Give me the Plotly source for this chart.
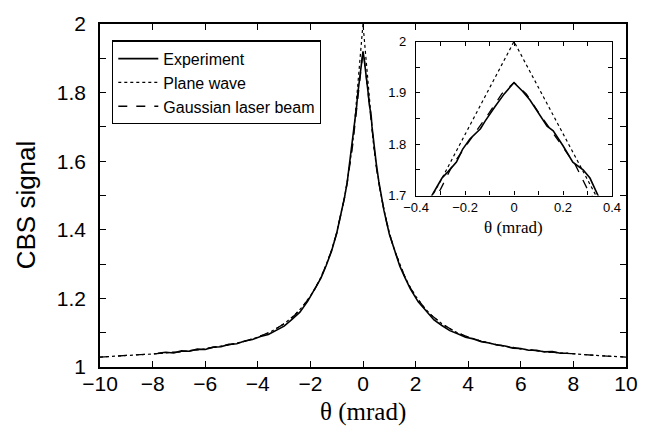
import plotly.graph_objects as go

# ---------------- data ----------------
theta_model = [-10, -9, -8, -7, -6, -5, -4.5, -4, -3.5, -3, -2.6, -2.3, -2, -1.8, -1.6,
               -1.4, -1.2, -1, -0.9, -0.8, -0.7, -0.6, -0.5, -0.4, -0.35, -0.3, -0.25,
               -0.2, -0.15, -0.1, -0.05, 0, 0.05, 0.1, 0.15, 0.2, 0.25, 0.3, 0.35, 0.4,
               0.5, 0.6, 0.7, 0.8, 0.9, 1, 1.2, 1.4, 1.6, 1.8, 2, 2.3, 2.6, 3, 3.5, 4,
               4.5, 5, 6, 7, 8, 9, 10]

plane_wave = [1.029, 1.033, 1.038, 1.044, 1.053, 1.066, 1.075, 1.087, 1.103, 1.126, 1.151,
              1.176, 1.207, 1.232, 1.262, 1.298, 1.340, 1.392, 1.424, 1.458, 1.496, 1.540,
              1.590, 1.648, 1.686, 1.728, 1.773, 1.818, 1.865, 1.910, 1.955, 2.000, 1.955,
              1.910, 1.865, 1.818, 1.773, 1.728, 1.686, 1.648, 1.590, 1.540, 1.496, 1.458,
              1.424, 1.392, 1.340, 1.298, 1.262, 1.232, 1.207, 1.176, 1.151, 1.126, 1.103,
              1.087, 1.075, 1.066, 1.053, 1.044, 1.038, 1.033, 1.029]

gaussian_beam = [1.029, 1.033, 1.038, 1.044, 1.053, 1.066, 1.075, 1.087, 1.103, 1.126, 1.151,
                 1.176, 1.206, 1.231, 1.261, 1.297, 1.339, 1.390, 1.422, 1.456, 1.494, 1.537,
                 1.586, 1.642, 1.676, 1.712, 1.760, 1.795, 1.828, 1.862, 1.898, 1.920, 1.898,
                 1.862, 1.828, 1.795, 1.760, 1.712, 1.676, 1.642, 1.586, 1.537, 1.494, 1.456,
                 1.422, 1.390, 1.339, 1.297, 1.261, 1.231, 1.206, 1.176, 1.151, 1.126, 1.103,
                 1.087, 1.075, 1.066, 1.053, 1.044, 1.038, 1.033, 1.029]

theta_exp = [-7.8, -7.5, -7.2, -6.9, -6.6, -6.3, -6.0, -5.7, -5.4, -5.1, -4.8, -4.5, -4.2,
             -3.9, -3.6, -3.3, -3.0, -2.7, -2.4, -2.1, -1.8, -1.6, -1.4, -1.2, -1.0, -0.8,
             -0.7, -0.6, -0.5, -0.4, -0.335, -0.294, -0.27, -0.235, -0.21, -0.18, -0.137,
             -0.118, -0.078, -0.04, 0, 0.035, 0.065, 0.106, 0.135, 0.16, 0.2, 0.24, 0.282,
             0.31, 0.343, 0.4, 0.5, 0.6, 0.7, 0.8, 1.0, 1.2, 1.4, 1.6, 1.8, 2.1, 2.4, 2.7,
             3.0, 3.3, 3.6, 3.9, 4.2, 4.5, 4.8, 5.1, 5.4, 5.7, 6.0, 6.3, 6.6, 6.9, 7.2, 7.5,
             7.8]

experiment = [1.040, 1.043, 1.041, 1.047, 1.046, 1.052, 1.051, 1.058, 1.059, 1.066, 1.068,
              1.076, 1.080, 1.089, 1.095, 1.108, 1.119, 1.139, 1.160, 1.192, 1.230, 1.259,
              1.296, 1.337, 1.390, 1.457, 1.495, 1.539, 1.598, 1.662, 1.700, 1.734, 1.746,
              1.765, 1.790, 1.810, 1.830, 1.845, 1.873, 1.898, 1.920, 1.903, 1.886, 1.855,
              1.835, 1.826, 1.797, 1.765, 1.750, 1.734, 1.700, 1.660, 1.596, 1.541, 1.497,
              1.455, 1.388, 1.338, 1.294, 1.260, 1.228, 1.190, 1.163, 1.137, 1.121, 1.106,
              1.097, 1.087, 1.082, 1.074, 1.070, 1.064, 1.061, 1.055, 1.054, 1.049, 1.049,
              1.044, 1.045, 1.040, 1.040]

series_names = ["Experiment", "Plane wave", "Gaussian laser beam"]
main_range_x = [-10, 10]
main_range_y = [1, 2]
inset_range_x = [-0.4, 0.4]
inset_range_y = [1.7, 2.0]

# ---------------- figure ----------------
fig = go.Figure()

styles = [
    dict(color="black", width=1.6, dash="solid"),
    dict(color="black", width=1.2, dash="dot"),
    dict(color="black", width=1.3, dash="dash"),
]
data = [(theta_exp, experiment), (theta_model, plane_wave), (theta_model, gaussian_beam)]

for (xs, ys), name, st in zip(data, series_names, styles):
    fig.add_trace(go.Scatter(x=xs, y=ys, mode="lines", name=name, line=st,
                             xaxis="x", yaxis="y", showlegend=True))
for (xs, ys), name, st in zip(data, series_names, styles):
    fig.add_trace(go.Scatter(x=xs, y=ys, mode="lines", name=name, line=st,
                             xaxis="x2", yaxis="y2", showlegend=False))

tickfont_main = dict(family="Liberation Sans, Arial, sans-serif", size=21, color="black")
tickfont_inset = dict(family="Liberation Sans, Arial, sans-serif", size=13, color="black")

fig.update_layout(
    width=655, height=432,
    margin=dict(l=100, r=29, t=15, b=65),
    paper_bgcolor="white", plot_bgcolor="white",
    showlegend=True,
    legend=dict(x=0.0228, y=0.952, xanchor="left", yanchor="top",
                bgcolor="white", bordercolor="black", borderwidth=1.3,
                font=dict(family="Liberation Sans, Arial, sans-serif", size=16, color="black"),
                tracegroupgap=0, itemwidth=40),
    xaxis=dict(domain=[0, 1], range=main_range_x, anchor="y", dtick=2, tick0=0,
               showgrid=False, zeroline=False, showline=True, linecolor="black",
               linewidth=1.5, mirror="ticks", ticks="inside", ticklen=6,
               tickcolor="black", tickwidth=1, tickfont=tickfont_main,
               ticklabelstandoff=-3),
    yaxis=dict(domain=[0, 1], range=main_range_y, anchor="x", dtick=0.2, tick0=1,
               showgrid=False, zeroline=False, showline=True, linecolor="black",
               linewidth=1.5, mirror="ticks", ticks="inside", ticklen=6,
               tickcolor="black", tickwidth=1, tickfont=tickfont_main,
               ticklabelstandoff=8,
               minor=dict(dtick=0.1, tick0=1, ticks="inside", ticklen=6,
                          tickcolor="black", tickwidth=1, showgrid=False)),
    xaxis2=dict(domain=[0.6008, 0.9734], range=inset_range_x, anchor="y2", dtick=0.2,
                tick0=0, showgrid=False, zeroline=False, showline=True,
                linecolor="black", linewidth=1.2, mirror="ticks", ticks="inside",
                ticklen=4, tickcolor="black", tickwidth=1, tickfont=tickfont_inset,
                ticklabelstandoff=0,
                minor=dict(dtick=0.1, tick0=0, ticks="inside", ticklen=4,
                           tickcolor="black", tickwidth=1, showgrid=False)),
    yaxis2=dict(domain=[0.5, 0.9489], range=inset_range_y, anchor="x2", dtick=0.1,
                tick0=1.7, showgrid=False, zeroline=False, showline=True,
                linecolor="black", linewidth=1.2, mirror="ticks", ticks="inside",
                ticklen=4, tickcolor="black", tickwidth=1, tickfont=tickfont_inset,
                ticklabelstandoff=6,
                minor=dict(dtick=0.05, tick0=1.7, ticks="inside", ticklen=4,
                           tickcolor="black", tickwidth=1, showgrid=False)),
    shapes=[dict(type="rect", xref="x2", yref="y2",
                 x0=inset_range_x[0], x1=inset_range_x[1],
                 y0=inset_range_y[0], y1=inset_range_y[1],
                 fillcolor="white", line=dict(width=0), layer="below")],
    annotations=[
        dict(text="CBS signal", xref="paper", yref="paper", x=-0.139, y=0.474,
             xanchor="center", yanchor="middle", textangle=-90, showarrow=False,
             font=dict(family="Liberation Sans, Arial, sans-serif", size=26, color="black")),
        dict(text="θ (mrad)", xref="paper", yref="paper", x=0.5, y=-0.13,
             xanchor="center", yanchor="middle", showarrow=False,
             font=dict(family="Liberation Serif, Times New Roman, serif", size=25, color="black")),
        dict(text="θ (mrad)", xref="paper", yref="paper", x=0.787, y=0.408,
             xanchor="center", yanchor="middle", showarrow=False,
             font=dict(family="Liberation Serif, Times New Roman, serif", size=17, color="black")),
    ],
)

fig.write_html("out.html")
